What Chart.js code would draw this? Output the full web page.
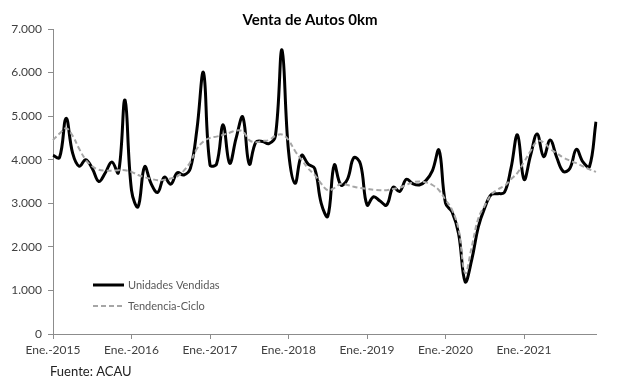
<!DOCTYPE html>
<html>
<head>
<meta charset="utf-8">
<script src="https://cdn.jsdelivr.net/npm/chart.js@4"></script>
<style>
  html, body { margin: 0; padding: 0; background: #fff; }
  #wrap { position: relative; width: 617px; height: 386px; }
</style>
</head>
<body>
<div id="wrap"><canvas id="myChart" width="617" height="386"></canvas></div>
<script>
// monthly categories, Jan 2015 - Dec 2021
const monthNames = ['Ene.', 'Feb.', 'Mar.', 'Abr.', 'May.', 'Jun.', 'Jul.', 'Ago.', 'Set.', 'Oct.', 'Nov.', 'Dic.']
const years = [2015, 2016, 2017, 2018, 2019, 2020, 2021]
const categories = []
years.forEach(y => monthNames.forEach(m => categories.push(`${m}-${y}`)))

const unidadesVendidas = [
  4100, 4050, 4950, 4150, 3850, 4000, 3800, 3500, 3700, 3950, 3700, 5370,
  3300, 2920, 3840, 3450, 3250, 3600, 3440, 3700, 3650, 3800, 4700, 6000,
  3880, 3900, 4800, 3920, 4500, 4980, 3900, 4400, 4420, 4370, 4550, 6520,
  4200, 3460, 4100, 3900, 3800, 3000, 2700, 3880, 3420, 3550, 4050, 3900,
  2960, 3150, 3050, 2960, 3370, 3270, 3550, 3450, 3420, 3520, 3750, 4220,
  3000, 2800, 2300, 1200, 1700, 2450, 2900, 3200, 3220, 3250, 3800, 4570,
  3550, 4100, 4590, 4070, 4450, 4050, 3730, 3800, 4240, 3950, 3840, 4870
]

const tendenciaCiclo = [
  4450, 4600, 4720, 4550, 4250, 4000, 3850, 3770, 3750, 3750, 3760, 3760,
  3720, 3650, 3600, 3560, 3530, 3540, 3570, 3620, 3750, 3950, 4250, 4420,
  4500, 4530, 4570, 4620, 4670, 4650, 4450, 4400, 4430, 4450, 4550, 4580,
  4450, 4200, 4000, 3800, 3650, 3450, 3300, 3350, 3450, 3420, 3380, 3350,
  3330, 3310, 3300, 3300, 3330, 3360, 3420, 3480, 3500, 3480, 3420, 3300,
  3080, 2850, 2400, 1400, 2000, 2650, 2950, 3200, 3320, 3400, 3550, 3700,
  3950, 4200, 4420, 4400, 4250, 4150, 4050, 3980, 3920, 3850, 3780, 3720
]

const yTicks = [0, 1000, 2000, 3000, 4000, 5000, 6000, 7000]

const fontFamily = 'Lato, "Open Sans", sans-serif'
const axisColor = '#8c8c8c'

const fmtMiles = v => String(v).replace(/\B(?=(\d{3})+(?!\d))/g, '.')

// title, legend and source note drawn on the canvas
const extras = {
  id: 'extras',
  afterDraw(chart) {
    const c = chart.ctx
    c.save()
    c.fillStyle = '#000'
    c.font = `bold 15px ${fontFamily}`
    c.textAlign = 'center'
    c.textBaseline = 'middle'
    c.fillText('Venta de Autos 0km', 310, 20)

    c.textAlign = 'left'
    c.font = `13px ${fontFamily}`
    c.fillStyle = '#222'
    c.fillText('Fuente: ACAU', 50, 372)

    // legend
    c.font = `11px ${fontFamily}`
    c.fillStyle = '#595959'
    c.strokeStyle = '#000'
    c.lineWidth = 3
    c.beginPath(); c.moveTo(93, 285); c.lineTo(124, 285); c.stroke()
    c.fillText('Unidades Vendidas', 128, 285)
    c.strokeStyle = '#a6a6a6'
    c.lineWidth = 2
    c.setLineDash([5, 3])
    c.beginPath(); c.moveTo(93, 306); c.lineTo(124, 306); c.stroke()
    c.setLineDash([])
    c.fillText('Tendencia-Ciclo', 128, 306)
    c.restore()
  }
}

const ctx = document.getElementById('myChart').getContext('2d')
const chart = new Chart(ctx, {
  type: 'line',
  data: {
    labels: categories,
    datasets: [
      {
        label: 'Tendencia-Ciclo',
        data: tendenciaCiclo,
        borderColor: '#a6a6a6',
        borderWidth: 2,
        borderDash: [5, 3],
        pointRadius: 0,
        tension: 0.4,
        fill: false
      },
      {
        label: 'Unidades Vendidas',
        data: unidadesVendidas,
        borderColor: '#000',
        borderWidth: 3,
        pointRadius: 0,
        tension: 0.4,
        fill: false
      }
    ]
  },
  options: {
    responsive: false,
    animation: false,
    layout: { padding: { top: 29, right: 21, bottom: 0, left: 0 } },
    plugins: {
      legend: { display: false },
      title: { display: false },
      tooltip: { enabled: false }
    },
    scales: {
      x: {
        offset: false,
        afterFit: s => { s.height = 52 },
        border: { color: axisColor, width: 1 },
        grid: {
          drawOnChartArea: false,
          tickLength: 5,
          color: c => (c.index % 12 === 0 ? axisColor : 'rgba(0,0,0,0)')
        },
        ticks: {
          autoSkip: false,
          maxRotation: 0,
          padding: 4,
          color: '#404040',
          font: { family: fontFamily, size: 12 },
          callback: (v, i) => (i % 12 === 0 ? categories[i] : '')
        }
      },
      y: {
        min: 0,
        max: 7000,
        afterFit: s => { s.width = 53 },
        afterBuildTicks: s => { s.ticks = yTicks.map(v => ({ value: v })) },
        border: { color: axisColor, width: 1 },
        grid: { drawOnChartArea: false, tickLength: 5, color: axisColor },
        ticks: {
          padding: 6,
          color: '#404040',
          font: { family: fontFamily, size: 12 },
          callback: v => fmtMiles(v)
        }
      }
    }
  },
  plugins: [extras]
})
</script>
</body>
</html>
